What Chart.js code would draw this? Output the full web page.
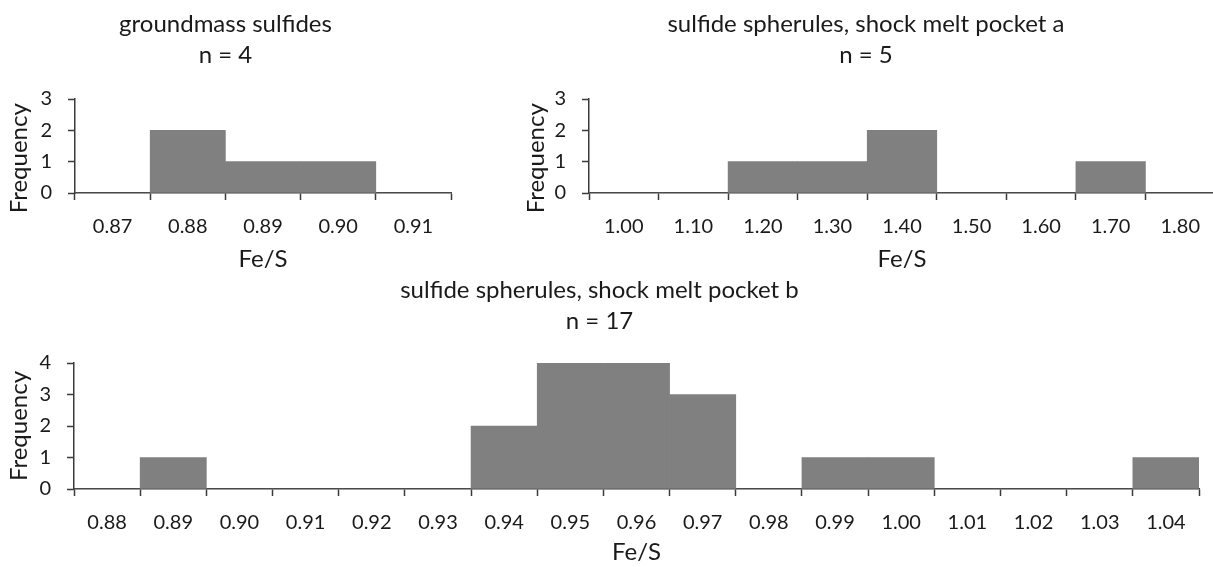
<!DOCTYPE html>
<html>
<head>
<meta charset="utf-8">
<script src="https://cdn.jsdelivr.net/npm/chart.js@4.4.1/dist/chart.umd.min.js"></script>
<title>Fe/S histograms</title>
<style>
  html, body { margin: 0; padding: 0; background: #fff; overflow: hidden; width: 1213px; height: 567px; }
  .box { position: absolute; }
</style>
</head>
<body>
<div class="box" style="left:0;top:0;width:470px;height:280px"><canvas id="c1"></canvas></div>
<div class="box" style="left:517px;top:0;width:700px;height:280px"><canvas id="c2"></canvas></div>
<div class="box" style="left:0;top:270px;width:1213px;height:297px"><canvas id="c3"></canvas></div>

<script>
  // bin labels and counts
  const groundBins = ["0.87", "0.88", "0.89", "0.90", "0.91"];
  const groundCounts = [0, 2, 1, 1, 0];

  const pocketABins = ["1.00", "1.10", "1.20", "1.30", "1.40", "1.50", "1.60", "1.70", "1.80"];
  const pocketACounts = [0, 0, 1, 1, 2, 0, 0, 1, 0];

  const pocketBBins = ["0.88", "0.89", "0.90", "0.91", "0.92", "0.93", "0.94", "0.95", "0.96",
                       "0.97", "0.98", "0.99", "1.00", "1.01", "1.02", "1.03", "1.04"];
  const pocketBCounts = [0, 1, 0, 0, 0, 0, 2, 4, 4, 3, 0, 1, 1, 0, 0, 0, 1];

  const FONT = "Lato";
  const TEXT = "#1a1a1a";
  const AXIS = "#3a3a3a";

  function histogram(id, bins, counts, title, yMax, g) {
    new Chart(document.getElementById(id), {
      type: 'bar',
      data: {
        labels: bins,
        datasets: [{ data: counts, backgroundColor: '#808080', borderWidth: 0,
                     barPercentage: 1, categoryPercentage: 1 }]
      },
      options: {
        responsive: true,
        maintainAspectRatio: false,
        animation: false,
        layout: { padding: { left: 0, right: g.padR, top: 0, bottom: 0 } },
        plugins: {
          legend: { display: false },
          tooltip: { enabled: false },
          title: {
            display: true,
            text: [title, 'n = ' + counts.reduce((a, b) => a + b, 0)],
            color: TEXT,
            font: { family: FONT, size: 24, weight: 'normal', lineHeight: 31 / 24 },
            padding: { top: g.titleTop, bottom: g.titleBottom }
          }
        },
        scales: {
          x: {
            afterFit: s => { s.height = g.xHeight; },
            grid: { display: true, drawOnChartArea: false, drawTicks: true, offset: true,
                    tickLength: 7, tickColor: AXIS, tickWidth: 1.5 },
            border: { display: true, color: AXIS, width: 1.5 },
            ticks: { color: TEXT, font: { family: FONT, size: 20 }, padding: 15, maxRotation: 0, autoSkip: false },
            title: { display: true, text: 'Fe/S', color: TEXT, font: { family: FONT, size: 24 },
                     padding: { top: 0, bottom: g.xTitleBottom } }
          },
          y: {
            min: 0, max: yMax,
            afterFit: s => { s.width = g.yWidth; },
            grid: { display: true, drawOnChartArea: false, drawTicks: true,
                    tickLength: 7, tickColor: AXIS, tickWidth: 1.5 },
            border: { display: true, color: AXIS, width: 1.5 },
            ticks: { stepSize: 1, color: TEXT, font: { family: FONT, size: 20 }, padding: 16 },
            title: { display: true, text: g.yTitle, color: TEXT, font: { family: FONT, size: 24 },
                     padding: { top: 4.5, bottom: 0 } }
          }
        }
      }
    });
  }

  histogram('c1', groundBins, groundCounts, 'groundmass sulfides', 3,
    { padR: 19, titleTop: 8.5, titleBottom: 28.5, xHeight: 87, yWidth: 75, xTitleBottom: 6.5,
      yTitle: 'Frequency    ' });
  histogram('c2', pocketABins, pocketACounts, 'sulfide spherules, shock melt pocket a', 3,
    { padR: 2, titleTop: 8.5, titleBottom: 28.5, xHeight: 87, yWidth: 72, xTitleBottom: 6.5,
      yTitle: 'Frequency    ' });
  histogram('c3', pocketBBins, pocketBCounts, 'sulfide spherules, shock melt pocket b', 4,
    { padR: 14, titleTop: 4.5, titleBottom: 26.5, xHeight: 78, yWidth: 74, xTitleBottom: 0,
      yTitle: 'Frequency' });
</script>
</body>
</html>
